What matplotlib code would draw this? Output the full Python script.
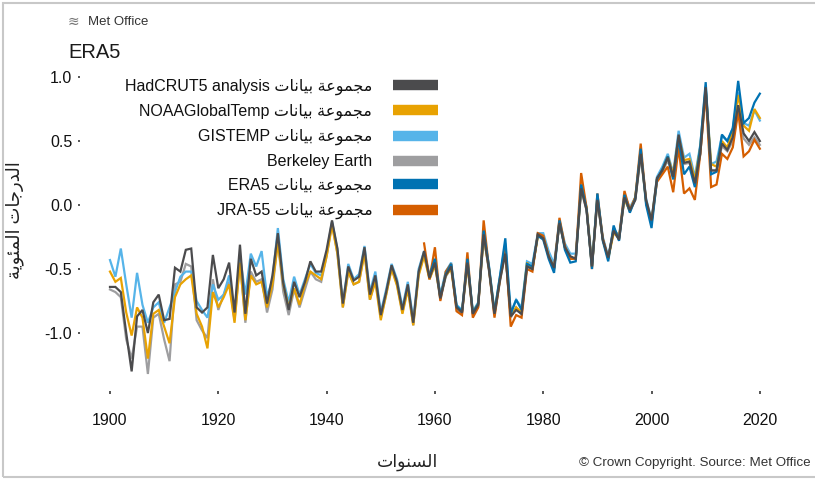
import matplotlib
matplotlib.use("Agg")
import matplotlib.pyplot as plt
from matplotlib.lines import Line2D
from matplotlib.patches import Rectangle

plt.rcParams['font.family'] = ['Liberation Sans', 'DejaVu Sans']

# ---------------- data ----------------
years_obs = list(range(1900, 2021))
hadcrut5 = [
    -0.64, -0.64, -0.68, -1.00, -1.30, -0.87, -0.82, -1.00, -0.76, -0.70,
    -0.90, -0.89, -0.49, -0.52, -0.35, -0.34, -0.80, -0.84, -0.80, -0.39,
    -0.65, -0.58, -0.45, -0.84, -0.31, -0.85, -0.42, -0.55, -0.52, -0.77,
    -0.55, -0.22, -0.61, -0.82, -0.60, -0.72, -0.60, -0.44, -0.52, -0.52,
    -0.35, -0.12, -0.34, -0.77, -0.48, -0.59, -0.56, -0.33, -0.70, -0.55,
    -0.86, -0.68, -0.47, -0.60, -0.82, -0.62, -0.92, -0.52, -0.36, -0.57,
    -0.45, -0.73, -0.55, -0.48, -0.80, -0.84, -0.45, -0.85, -0.78, -0.23,
    -0.51, -0.85, -0.59, -0.38, -0.87, -0.82, -0.85, -0.48, -0.50, -0.23,
    -0.26, -0.40, -0.49, -0.14, -0.33, -0.40, -0.42, 0.13, -0.04, -0.48,
    0.04, -0.27, -0.41, -0.20, -0.27, 0.06, -0.04, 0.04, 0.40, 0.04,
    -0.12, 0.21, 0.27, 0.37, 0.22, 0.55, 0.33, 0.34, 0.17, 0.40,
    0.92, 0.27, 0.27, 0.48, 0.43, 0.53, 0.78, 0.56, 0.50, 0.57, 0.50]
noaa = [
    -0.52, -0.60, -0.57, -0.84, -1.02, -0.80, -0.88, -1.20, -0.85, -0.82,
    -0.95, -1.08, -0.72, -0.62, -0.58, -0.55, -0.85, -0.95, -1.12, -0.68,
    -0.80, -0.72, -0.62, -0.92, -0.45, -0.90, -0.55, -0.62, -0.60, -0.80,
    -0.62, -0.30, -0.62, -0.80, -0.65, -0.78, -0.62, -0.52, -0.55, -0.58,
    -0.40, -0.16, -0.38, -0.80, -0.52, -0.62, -0.60, -0.38, -0.74, -0.60,
    -0.90, -0.70, -0.50, -0.63, -0.85, -0.66, -0.94, -0.55, -0.40, -0.58,
    -0.47, -0.72, -0.55, -0.50, -0.80, -0.83, -0.47, -0.84, -0.77, -0.25,
    -0.50, -0.84, -0.58, -0.36, -0.87, -0.80, -0.84, -0.45, -0.50, -0.25,
    -0.25, -0.40, -0.50, -0.13, -0.33, -0.42, -0.42, 0.14, -0.02, -0.48,
    0.06, -0.27, -0.42, -0.22, -0.25, 0.05, -0.05, 0.06, 0.42, 0.02,
    -0.13, 0.20, 0.27, 0.38, 0.24, 0.53, 0.35, 0.36, 0.20, 0.45,
    0.90, 0.32, 0.30, 0.50, 0.45, 0.58, 0.86, 0.62, 0.58, 0.75, 0.68]
gistemp = [
    -0.43, -0.56, -0.34, -0.62, -0.88, -0.53, -0.78, -0.92, -0.80, -0.76,
    -0.92, -0.80, -0.68, -0.56, -0.52, -0.52, -0.75, -0.82, -0.88, -0.62,
    -0.74, -0.70, -0.55, -0.86, -0.40, -0.70, -0.38, -0.48, -0.36, -0.72,
    -0.58, -0.18, -0.58, -0.76, -0.56, -0.70, -0.58, -0.46, -0.53, -0.55,
    -0.38, -0.13, -0.35, -0.77, -0.46, -0.58, -0.54, -0.32, -0.68, -0.52,
    -0.84, -0.66, -0.46, -0.58, -0.80, -0.60, -0.90, -0.50, -0.36, -0.55,
    -0.43, -0.70, -0.52, -0.45, -0.78, -0.82, -0.44, -0.83, -0.76, -0.22,
    -0.48, -0.83, -0.56, -0.30, -0.84, -0.74, -0.80, -0.44, -0.46, -0.22,
    -0.22, -0.36, -0.46, -0.12, -0.30, -0.38, -0.38, 0.14, -0.02, -0.45,
    0.06, -0.25, -0.40, -0.19, -0.24, 0.08, -0.02, 0.06, 0.42, 0.05,
    -0.12, 0.22, 0.30, 0.40, 0.25, 0.58, 0.37, 0.40, 0.22, 0.47,
    0.93, 0.32, 0.34, 0.54, 0.50, 0.60, 0.88, 0.64, 0.62, 0.74, 0.66]
berkeley = [
    -0.66, -0.68, -0.72, -1.05, -1.20, -0.95, -0.95, -1.32, -0.88, -0.85,
    -1.05, -1.22, -0.62, -0.60, -0.46, -0.48, -0.90, -0.98, -1.04, -0.58,
    -0.82, -0.70, -0.60, -0.90, -0.44, -0.92, -0.52, -0.60, -0.58, -0.84,
    -0.66, -0.28, -0.68, -0.86, -0.66, -0.80, -0.66, -0.52, -0.58, -0.60,
    -0.40, -0.14, -0.38, -0.80, -0.52, -0.62, -0.60, -0.36, -0.74, -0.58,
    -0.88, -0.70, -0.49, -0.62, -0.84, -0.64, -0.94, -0.54, -0.38, -0.58,
    -0.46, -0.74, -0.56, -0.49, -0.82, -0.85, -0.46, -0.86, -0.79, -0.24,
    -0.52, -0.86, -0.60, -0.36, -0.88, -0.80, -0.86, -0.48, -0.50, -0.24,
    -0.25, -0.40, -0.49, -0.14, -0.33, -0.41, -0.42, 0.12, -0.04, -0.48,
    0.04, -0.27, -0.41, -0.21, -0.27, 0.05, -0.05, 0.04, 0.38, 0.03,
    -0.13, 0.19, 0.26, 0.35, 0.21, 0.52, 0.32, 0.33, 0.16, 0.40,
    0.88, 0.27, 0.27, 0.46, 0.42, 0.50, 0.74, 0.52, 0.47, 0.53, 0.47]
years_era5 = list(range(1959, 2021))
era5 = [
    -0.55, -0.42, -0.72, -0.54, -0.46, -0.79, -0.83, -0.42, -0.84, -0.77, -0.20,
    -0.49, -0.84, -0.56, -0.26, -0.85, -0.74, -0.82, -0.46, -0.48, -0.24,
    -0.27, -0.42, -0.53, -0.12, -0.35, -0.45, -0.44, 0.16, -0.03, -0.50,
    0.09, -0.28, -0.44, -0.16, -0.28, 0.08, -0.06, 0.05, 0.44, 0.00,
    -0.18, 0.20, 0.28, 0.38, 0.20, 0.52, 0.24, 0.30, 0.14, 0.46,
    0.96, 0.24, 0.26, 0.55, 0.50, 0.60, 0.97, 0.64, 0.68, 0.80, 0.87]
years_jra55 = list(range(1958, 2021))
jra55 = [
    -0.30, -0.58, -0.33, -0.75, -0.52, -0.46, -0.83, -0.86, -0.37, -0.88, -0.80, -0.12,
    -0.50, -0.88, -0.58, -0.32, -0.95, -0.86, -0.88, -0.50, -0.52, -0.22,
    -0.24, -0.40, -0.50, -0.10, -0.32, -0.42, -0.42, 0.25, -0.02, -0.50,
    0.09, -0.26, -0.42, -0.18, -0.26, 0.11, -0.04, 0.06, 0.48, 0.02,
    -0.14, 0.18, 0.24, 0.30, 0.10, 0.45, 0.09, 0.13, 0.04, 0.40,
    0.88, 0.14, 0.16, 0.40, 0.36, 0.45, 0.73, 0.38, 0.42, 0.51, 0.44]

series_names = ["HadCRUT5 analysis", "NOAAGlobalTemp", "GISTEMP",
                "Berkeley Earth", "ERA5", "JRA-55"]
series_has_prefix = [True, True, True, False, True, True]
series_colors = ["#4b4b4d", "#e8a202", "#56b4e9", "#9e9ea0", "#0072b2", "#d55e00"]
x_ticks = [1900, 1920, 1940, 1960, 1980, 2000, 2020]
y_ticks = [-1.0, -0.5, 0.0, 0.5, 1.0]

# Arabic text in visual order with presentation forms
AR_DATASET = "\uFE95\uFE8E\uFEE7\uFE8E\uFEF4\uFE91 \uFE94\uFECB\uFEEE\uFEE4\uFEA0\uFEE3"  # مجموعة بيانات
AR_YEARS = "\uFE95\uFE8D\uFEEE\uFEE8\uFEB4\uFEDF\uFE8D"  # السنوات
AR_DEGREES = ("\uFE94\uFEF3\uFEEE\uFE8C\uFEE4\uFEDF\uFE8D "
              "\uFE95\uFE8E\uFE9F\uFEAD\uFEAA\uFEDF\uFE8D")  # الدرجات المئوية
title_text = "ERA5"
brand_text = "Met Office"
copyright_text = "\u00a9 Crown Copyright. Source: Met Office"

# ---------------- figure ----------------
W, H = 815, 480
fig = plt.figure(figsize=(W / 100, H / 100), dpi=100)
fig.patch.set_facecolor("white")

ax_left, ax_right, ax_top, ax_bottom = 80.2, 814.0, 60.4, 390.6
ax = fig.add_axes([ax_left / W, 1 - ax_bottom / H,
                   (ax_right - ax_left) / W, (ax_bottom - ax_top) / H])
ax.set_xlim(1894.5, 2030)
ax.set_ylim(-1.45, 1.13)
for s in ax.spines.values():
    s.set_visible(False)

data = [(years_obs, hadcrut5), (years_obs, noaa), (years_obs, gistemp),
        (years_obs, berkeley), (years_era5, era5), (years_jra55, jra55)]
draw_order = [3, 2, 1, 5, 4, 0]
for i in draw_order:
    xs, ys = data[i]
    ax.plot(xs, ys, color=series_colors[i], lw=1.6, solid_joinstyle="miter",
            zorder=2 + draw_order.index(i))

ax.set_xticks(x_ticks)
ax.set_xticklabels([str(t) for t in x_ticks])
ax.set_yticks(y_ticks)
ax.set_yticklabels(["%.1f" % t for t in y_ticks])
ax.tick_params(axis="both", direction="out", length=1.8, width=1.4, color="#555555",
               labelsize=11.5, labelcolor="#111111")
ax.tick_params(axis="x", pad=14)
ax.tick_params(axis="y", pad=4)

# legend (labels to the left of thick colour bars)
handles = [Line2D([0], [0], color=c, lw=7.5, solid_capstyle="butt") for c in series_colors]
labels = [(n + " " + AR_DATASET) if p else n for n, p in zip(series_names, series_has_prefix)]
leg = ax.legend(handles, labels, markerfirst=False, frameon=False, fontsize=11.5,
                handlelength=2.81, handletextpad=1.3, labelspacing=0.55,
                borderpad=0, borderaxespad=0, loc="upper right",
                bbox_to_anchor=(438 / W, 1 - 79 / H), bbox_transform=fig.transFigure)
for t in leg.get_texts():
    t.set_color("#111111")

# titles and annotations
fig.text(68 / W, 1 - 53 / H, title_text, fontsize=14.5, color="#1a1a1a", va="center", ha="left")
fig.text(68 / W, 1 - 22 / H, "\u224b", fontsize=10, color="#777777", va="center", ha="left",
         family=["DejaVu Sans"])
fig.text(88 / W, 1 - 22 / H, brand_text, fontsize=9.5, color="#333333", va="center", ha="left")
fig.text(408 / W, 1 - 462 / H, AR_YEARS, fontsize=12.5, color="#222222", va="center", ha="center")
fig.text(15 / W, 1 - 220 / H, AR_DEGREES, fontsize=13, color="#222222", va="center", ha="center",
         rotation=90)
fig.text(811 / W, 1 - 463 / H, copyright_text, fontsize=9.6, color="#333333", va="center", ha="right")

# light frame around the graphic (open on the right)
fig.add_artist(Rectangle((3 / W, 3 / H), 900 / W, (H - 6) / H, transform=fig.transFigure,
                         fill=False, edgecolor="#c8c8c8", lw=1.5))

fig.savefig("out.png", dpi=100)
